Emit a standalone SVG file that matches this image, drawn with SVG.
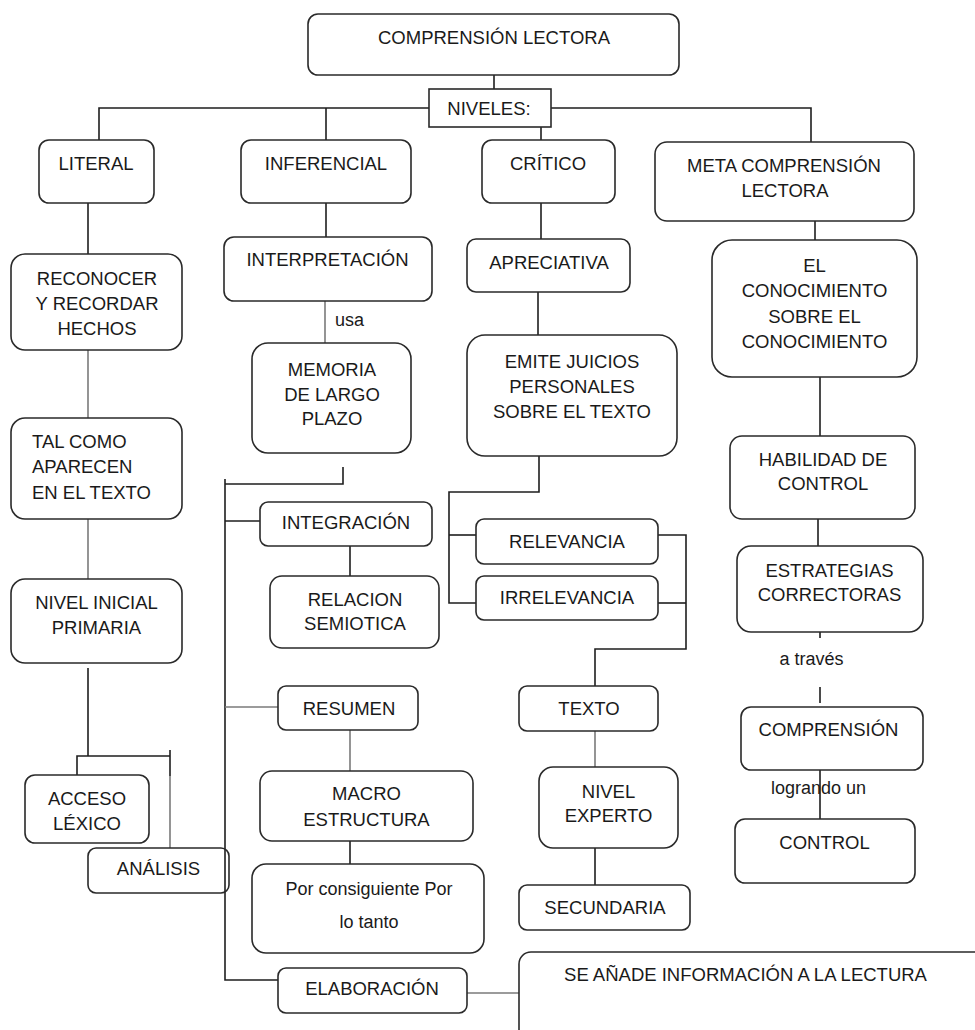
<svg xmlns="http://www.w3.org/2000/svg" width="975" height="1030" viewBox="0 0 975 1030">
<style>
.b{fill:#fff;stroke:#2a2a2a;stroke-width:1.6}
.t{font-family:"Liberation Sans",Arial,sans-serif;font-size:18.5px;fill:#1a1a1a;text-anchor:middle}
.s{font-family:"Liberation Sans",Arial,sans-serif;font-size:18px;fill:#1a1a1a}
.c path{fill:none;stroke:#1e1e1e;stroke-width:1.6}
.c path.g{stroke:#7a7a7a}
</style>
<rect width="975" height="1030" fill="#fff"/>
<g class="c" id="connectors">
<path d="M494,75 V89"/>
<path d="M429,108 H99 V140"/>
<path d="M326,108 V140"/>
<path d="M551,108 H811 V142"/>
<path d="M541,127 V140"/>
<path d="M88,203 V254"/>
<path class="g" d="M88,350 V418"/>
<path class="g" d="M88,519 V579"/>
<path d="M88,668 V756"/>
<path d="M77,775 V756 H170"/>
<path d="M170,750 V776"/>
<path class="g" d="M170,776 V848"/>
<path d="M326,203 V237"/>
<path class="g" d="M325,301 V343"/>
<path d="M343,467 V484 H225"/>
<path d="M225,479 V980 H278"/>
<path d="M225,521 H260"/>
<path class="g" d="M225,707 H278"/>
<path d="M350,546 V576"/>
<path class="g" d="M350,730 V771"/>
<path d="M350,835 V864"/>
<path class="g" d="M467,993 H519"/>
<path d="M541,203 V239"/>
<path d="M538,292 V335"/>
<path d="M539,456 V492 H449 V603 H476"/>
<path d="M449,535 H476"/>
<path d="M658,535 H686 V649 H595 V686"/>
<path d="M658,603 H686"/>
<path class="g" d="M595,731 V767"/>
<path d="M595,848 V885"/>
<path d="M815,221 V240"/>
<path d="M820,377 V436"/>
<path d="M818,519 V546"/>
<path d="M820,627 V638"/>
<path d="M820,687 V703"/>
<path d="M820,766 V819"/>
</g>
<g id="n-comprension"><rect class="b" x="308" y="14" width="371" height="61" rx="10"/><text class="t" x="494" y="44">COMPRENSIÓN LECTORA</text></g>
<g id="n-niveles"><rect class="b" x="429" y="89" width="122" height="38"/><text class="t" x="489" y="114.5">NIVELES:</text></g>
<g id="n-literal"><rect class="b" x="39" y="140" width="115" height="63" rx="10"/><text class="t" x="96" y="170">LITERAL</text></g>
<g id="n-inferencial"><rect class="b" x="241" y="140" width="170" height="63" rx="10"/><text class="t" x="326" y="170">INFERENCIAL</text></g>
<g id="n-critico"><rect class="b" x="482" y="140" width="133" height="63" rx="10"/><text class="t" x="548" y="170">CRÍTICO</text></g>
<g id="n-meta"><rect class="b" x="655" y="142" width="259" height="79" rx="12"/><text class="t" x="784" y="171.5">META COMPRENSIÓN</text><text class="t" x="785" y="196.5">LECTORA</text></g>
<g id="n-reconocer"><rect class="b" x="11" y="254" width="171" height="96" rx="14"/><text class="t" x="97" y="284.5">RECONOCER</text><text class="t" x="97" y="309.5">Y RECORDAR</text><text class="t" x="97" y="334.5">HECHOS</text></g>
<g id="n-talcomo"><rect class="b" x="11" y="418" width="171" height="101" rx="14"/><text class="t" x="32" y="447.5" style="text-anchor:start">TAL COMO</text><text class="t" x="32" y="472.5" style="text-anchor:start">APARECEN</text><text class="t" x="32" y="498.5" style="text-anchor:start">EN EL TEXTO</text></g>
<g id="n-nivelinicial"><rect class="b" x="11" y="579" width="171" height="84" rx="14"/><text class="t" x="96.5" y="608.5">NIVEL INICIAL</text><text class="t" x="96.5" y="633.5">PRIMARIA</text></g>
<g id="n-acceso"><rect class="b" x="25" y="775" width="124" height="68" rx="10"/><text class="t" x="87" y="804.5">ACCESO</text><text class="t" x="87" y="829.5">LÉXICO</text></g>
<g id="n-analisis"><rect class="b" x="88" y="848" width="141" height="45" rx="8" style="fill:none"/><text class="t" x="158.5" y="874.5">ANÁLISIS</text></g>
<g id="n-interpretacion"><rect class="b" x="224" y="237" width="208" height="64" rx="10"/><text class="t" x="327.5" y="265.5">INTERPRETACIÓN</text></g>
<text class="s" x="335" y="326">usa</text>
<g id="n-memoria"><rect class="b" x="252" y="343" width="159" height="110" rx="16"/><text class="t" x="332" y="375.5">MEMORIA</text><text class="t" x="332" y="400.5">DE LARGO</text><text class="t" x="332" y="424.5">PLAZO</text></g>
<g id="n-integracion"><rect class="b" x="260" y="502" width="172" height="44" rx="8"/><text class="t" x="346" y="528.5">INTEGRACIÓN</text></g>
<g id="n-relacion"><rect class="b" x="270" y="576" width="169" height="72" rx="12"/><text class="t" x="355" y="605.5">RELACION</text><text class="t" x="355" y="630">SEMIOTICA</text></g>
<g id="n-resumen"><rect class="b" x="278" y="686" width="140" height="44" rx="8"/><text class="t" x="349" y="714.5">RESUMEN</text></g>
<g id="n-macro"><rect class="b" x="260" y="771" width="213" height="70" rx="12"/><text class="t" x="366.5" y="799.5">MACRO</text><text class="t" x="366.5" y="825.5">ESTRUCTURA</text></g>
<g id="n-porconsiguiente"><rect class="b" x="252" y="864" width="232" height="89" rx="14"/><text class="s" x="369" y="895" style="text-anchor:middle">Por consiguiente Por</text><text class="s" x="369" y="928" style="text-anchor:middle">lo tanto</text></g>
<g id="n-elaboracion"><rect class="b" x="278" y="968" width="189" height="45" rx="8"/><text class="t" x="372" y="994.5">ELABORACIÓN</text></g>
<g id="n-seanade"><rect class="b" x="519" y="952" width="480" height="110" rx="12"/><text class="t" x="745.5" y="980.5">SE AÑADE INFORMACIÓN A LA LECTURA</text></g>
<g id="n-apreciativa"><rect class="b" x="467" y="239" width="163" height="53" rx="9"/><text class="t" x="549" y="268.5">APRECIATIVA</text></g>
<g id="n-emite"><rect class="b" x="467" y="335" width="210" height="121" rx="18"/><text class="t" x="572" y="367.5">EMITE JUICIOS</text><text class="t" x="572" y="392.5">PERSONALES</text><text class="t" x="572" y="417.5">SOBRE EL TEXTO</text></g>
<g id="n-relevancia"><rect class="b" x="476" y="519" width="182" height="45" rx="8"/><text class="t" x="567" y="547.5">RELEVANCIA</text></g>
<g id="n-irrelevancia"><rect class="b" x="476" y="576" width="182" height="44" rx="8"/><text class="t" x="567" y="603.5">IRRELEVANCIA</text></g>
<g id="n-texto"><rect class="b" x="519" y="686" width="139" height="45" rx="8"/><text class="t" x="589" y="714.5">TEXTO</text></g>
<g id="n-experto"><rect class="b" x="539" y="767" width="139" height="81" rx="14"/><text class="t" x="608.5" y="797.5">NIVEL</text><text class="t" x="608.5" y="821.5">EXPERTO</text></g>
<g id="n-secundaria"><rect class="b" x="519" y="885" width="171" height="45" rx="8"/><text class="t" x="605" y="913.5">SECUNDARIA</text></g>
<g id="n-conocimiento"><rect class="b" x="712" y="240" width="205" height="137" rx="20"/><text class="t" x="814.5" y="271.5">EL</text><text class="t" x="814.5" y="297">CONOCIMIENTO</text><text class="t" x="814.5" y="322.5">SOBRE EL</text><text class="t" x="814.5" y="348">CONOCIMIENTO</text></g>
<g id="n-habilidad"><rect class="b" x="730" y="436" width="185" height="83" rx="12"/><text class="t" x="823" y="465.5">HABILIDAD DE</text><text class="t" x="823" y="489.5">CONTROL</text></g>
<g id="n-estrategias"><rect class="b" x="737" y="546" width="186" height="86" rx="14"/><text class="t" x="829.5" y="576.5">ESTRATEGIAS</text><text class="t" x="829.5" y="600.5">CORRECTORAS</text></g>
<text class="s" x="811.5" y="665" style="text-anchor:middle">a través</text>
<g id="n-comprension2"><rect class="b" x="741" y="707" width="182" height="63" rx="10"/><text class="t" x="828.5" y="735.5">COMPRENSIÓN</text></g>
<text class="s" x="818.5" y="794" style="text-anchor:middle">logrando un</text>
<g id="n-control"><rect class="b" x="735" y="819" width="180" height="64" rx="10"/><text class="t" x="824.5" y="848.5">CONTROL</text></g>
</svg>
